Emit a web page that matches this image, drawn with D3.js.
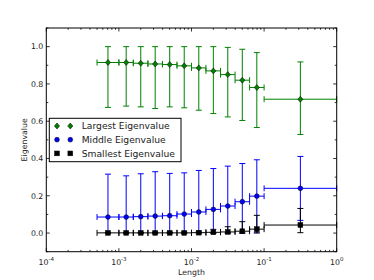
<!DOCTYPE html>
<html lang="en">
<head>
<meta charset="UTF-8">
<title>Eigenvalues vs Length</title>
<style>
body { margin: 0; background: #fff; }
text { font-family: "DejaVu Sans", sans-serif; fill: #222; }
</style>
</head>
<body>
<div id="chart"></div>
<script src="https://cdnjs.cloudflare.com/ajax/libs/d3/7.8.5/d3.min.js"></script>
<script>

// bin centres and edges (Length)
let xMid = [7.07e-4, 1.26e-3, 2.0e-3, 3.16e-3, 5.01e-3, 7.94e-3, 1.26e-2, 2.0e-2, 3.16e-2, 5.01e-2, 7.94e-2, 0.316];
let xLo  = [5e-4, 1e-3, 1.58e-3, 2.51e-3, 3.98e-3, 6.31e-3, 1e-2, 1.58e-2, 2.51e-2, 3.98e-2, 6.31e-2, 0.1];
let xHi  = [1e-3, 1.58e-3, 2.51e-3, 3.98e-3, 6.31e-3, 1e-2, 1.58e-2, 2.51e-2, 3.98e-2, 6.31e-2, 0.1, 1.0];

let largest   = [0.915, 0.915, 0.911, 0.907, 0.904, 0.897, 0.886, 0.870, 0.850, 0.820, 0.781, 0.718];
let largestHi = [1.0, 1.0, 1.0, 1.0, 1.0, 1.0, 1.0, 1.0, 0.996, 0.986, 0.968, 0.918];
let largestLo = [0.674, 0.681, 0.677, 0.668, 0.677, 0.672, 0.659, 0.641, 0.623, 0.604, 0.566, 0.529];

let middle   = [0.086, 0.086, 0.088, 0.091, 0.093, 0.102, 0.113, 0.127, 0.145, 0.168, 0.198, 0.240];
let middleHi = [0.316, 0.307, 0.318, 0.329, 0.320, 0.323, 0.336, 0.346, 0.359, 0.373, 0.393, 0.411];
let middleLo = [0.0, 0.0, 0.0, 0.0, 0.0, 0.0, 0.0, 0.0, 0.0, 0.0, 0.005, 0.068];

let smallest   = [0.001, 0.001, 0.001, 0.001, 0.001, 0.001, 0.002, 0.004, 0.006, 0.010, 0.021, 0.043];
let smallestHi = [0.004, 0.004, 0.004, 0.005, 0.005, 0.006, 0.010, 0.020, 0.034, 0.061, 0.095, 0.132];
let smallestLo = [0.0, 0.0, 0.0, 0.0, 0.0, 0.0, 0.0, 0.0, 0.0, 0.0, 0.0, 0.002];

let xTickExp = [-4, -3, -2, -1, 0];
let yTicks = [-0.1, 0.0, 0.1, 0.2, 0.3, 0.4, 0.5, 0.6, 0.7, 0.8, 0.9, 1.0, 1.1];
let yLabels = [0.0, 0.2, 0.4, 0.6, 0.8, 1.0];

let series = [
    { name: "Largest Eigenvalue", color: "#008000", marker: "diamond", y: largest, hi: largestHi, lo: largestLo },
    { name: "Middle Eigenvalue", color: "#0000ff", marker: "circle", y: middle, hi: middleHi, lo: middleLo },
    { name: "Smallest Eigenvalue", color: "#000000", marker: "square", y: smallest, hi: smallestHi, lo: smallestLo }
];

let W = 374, H = 280;
let margin = { top: 28, right: 37.3, bottom: 28.3, left: 46.3 };

let svg = d3.select("#chart").append("svg")
    .attr("width", W)
    .attr("height", H);

let x = d3.scaleLog().domain([1e-4, 1]).range([margin.left, W - margin.right]);
let y = d3.scaleLinear().domain([-0.1, 1.1]).range([H - margin.bottom, margin.top]);

let x0 = margin.left, x1 = W - margin.right, y0 = H - margin.bottom, y1 = margin.top;

// ticks (inside, on all four sides)
let g = svg.append("g").attr("stroke", "#000").attr("stroke-width", 0.8);
yTicks.forEach(function (v) {
    let major = yLabels.some(l => Math.abs(l - v) < 1e-9);
    let len = major ? 3.5 : 2;
    let py = y(v);
    g.append("line").attr("x1", x0).attr("x2", x0 + len).attr("y1", py).attr("y2", py);
    g.append("line").attr("x1", x1).attr("x2", x1 - len).attr("y1", py).attr("y2", py);
});
x.ticks().forEach(function (v) {
    let e = Math.log10(v);
    let major = Math.abs(e - Math.round(e)) < 1e-9;
    let len = major ? 3.5 : 1.8;
    let px = x(v);
    g.append("line").attr("x1", px).attr("x2", px).attr("y1", y0).attr("y2", y0 - len);
    g.append("line").attr("x1", px).attr("x2", px).attr("y1", y1).attr("y2", y1 + len);
});

// tick labels
yLabels.forEach(function (v) {
    svg.append("text")
        .attr("x", x0 - 3)
        .attr("y", y(v))
        .attr("dy", "0.35em")
        .attr("text-anchor", "end")
        .attr("font-size", 7.8)
        .text(v.toFixed(1));
});
xTickExp.forEach(function (e) {
    let t = svg.append("text")
        .attr("x", x(Math.pow(10, e)))
        .attr("y", y0 + 13)
        .attr("text-anchor", "middle")
        .attr("font-size", 7.8);
    t.append("tspan").text("10");
    t.append("tspan").attr("dy", -3.5).attr("font-size", 5.5).text(e);
});

// axis labels
svg.append("text")
    .attr("x", (x0 + x1) / 2)
    .attr("y", 275)
    .attr("text-anchor", "middle")
    .attr("font-size", 7.8)
    .text("Length");
svg.append("text")
    .attr("transform", "translate(27," + ((y0 + y1) / 2) + ") rotate(-90)")
    .attr("text-anchor", "middle")
    .attr("font-size", 7.8)
    .text("Eigenvalue");

function drawMarker(sel, type, cx, cy, color) {
    if (type === "diamond") {
        sel.append("path")
            .attr("d", "M" + cx + "," + (cy - 3) + "L" + (cx + 2.6) + "," + cy + "L" + cx + "," + (cy + 3) + "L" + (cx - 2.6) + "," + cy + "Z")
            .attr("fill", color).attr("stroke", "#000").attr("stroke-width", 0.5);
    } else if (type === "circle") {
        sel.append("circle").attr("cx", cx).attr("cy", cy).attr("r", 2.4)
            .attr("fill", color).attr("stroke", "#000").attr("stroke-width", 0.5);
    } else {
        sel.append("rect").attr("x", cx - 2.4).attr("y", cy - 2.4).attr("width", 4.8).attr("height", 4.8)
            .attr("fill", color).attr("stroke", "#000").attr("stroke-width", 0.5);
    }
}

// error bars + markers
let plot = svg.append("g");
let cap = 3;
series.forEach(function (s) {
    let eb = plot.append("g").attr("stroke", s.color).attr("stroke-width", 1).attr("fill", "none");
    xMid.forEach(function (xv, i) {
        let px = x(xv), py = y(s.y[i]);
        let pxl = x(xLo[i]), pxh = x(xHi[i]);
        let pyl = y(s.lo[i]), pyh = y(s.hi[i]);
        eb.append("line").attr("x1", px).attr("x2", px).attr("y1", pyl).attr("y2", pyh);
        eb.append("line").attr("x1", px - cap).attr("x2", px + cap).attr("y1", pyl).attr("y2", pyl);
        eb.append("line").attr("x1", px - cap).attr("x2", px + cap).attr("y1", pyh).attr("y2", pyh);
        eb.append("line").attr("x1", pxl).attr("x2", pxh).attr("y1", py).attr("y2", py);
        eb.append("line").attr("x1", pxl).attr("x2", pxl).attr("y1", py - cap).attr("y2", py + cap);
        eb.append("line").attr("x1", pxh).attr("x2", pxh).attr("y1", py - cap).attr("y2", py + cap);
    });
    let mk = plot.append("g");
    xMid.forEach(function (xv, i) {
        drawMarker(mk, s.marker, x(xv), y(s.y[i]), s.color);
    });
});

// frame (drawn over the data, clipping the overflowing bar ends visually)
svg.append("rect")
    .attr("x", x0).attr("y", y1)
    .attr("width", x1 - x0).attr("height", y0 - y1)
    .attr("fill", "none").attr("stroke", "#000").attr("stroke-width", 1);

// legend
let lg = svg.append("g");
lg.append("rect")
    .attr("x", 49.3).attr("y", 118.3)
    .attr("width", 131.7).attr("height", 43.4)
    .attr("fill", "#fff").attr("stroke", "#000").attr("stroke-width", 1);
series.forEach(function (s, i) {
    let ly = 126 + i * 13.7;
    drawMarker(lg, s.marker, 57, ly, s.color);
    drawMarker(lg, s.marker, 70.3, ly, s.color);
    lg.append("text")
        .attr("x", 81.7)
        .attr("y", ly)
        .attr("dy", "0.35em")
        .attr("font-size", 9.2)
        .text(s.name);
});
</script>
</body>
</html>
